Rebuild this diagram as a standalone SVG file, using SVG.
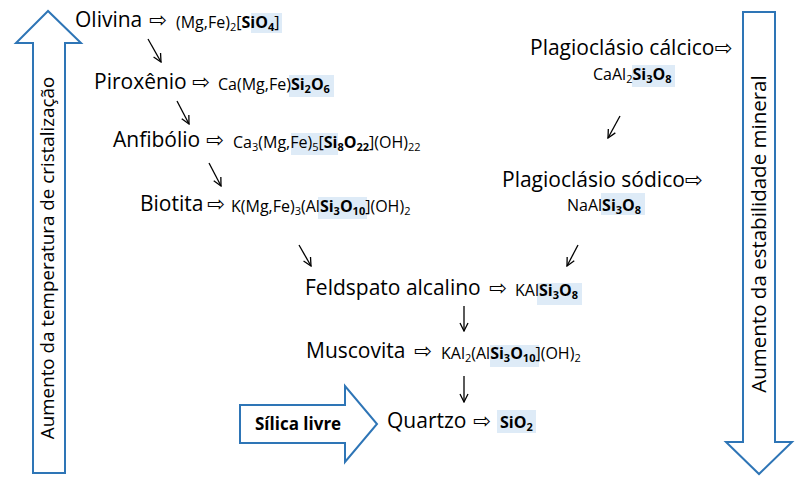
<svg xmlns="http://www.w3.org/2000/svg" width="800" height="481" viewBox="0 0 800 481">
<defs>
<style>
.lbl{font-family:"Open Sans","Noto Sans",sans-serif;font-size:21px;fill:#000}
.sym{font-family:"DejaVu Sans",sans-serif;font-size:21px;fill:#000}
.f{font-family:"Open Sans","Noto Sans",sans-serif;font-size:16px;fill:#000}
.b{font-weight:bold}
.sub{font-size:11px}
.hl{fill:#DEEBF7}
.big{fill:#fff;stroke:#2E75B6;stroke-width:2}
.vt{font-family:"Open Sans","Noto Sans",sans-serif;fill:#000}
.con{stroke:#000;stroke-width:1.3;fill:none}
</style>
<marker id="ah" viewBox="0 0 10 10" refX="9" refY="5" markerWidth="10" markerHeight="10" markerUnits="userSpaceOnUse" orient="auto">
<path d="M1,1 L9,5 L1,9" fill="none" stroke="#000" stroke-width="1.3"/>
</marker>
</defs>
<rect width="800" height="481" fill="#fff"/>

<g id="temp-arrow">
<polygon class="big" points="48,11 16,43 33,43 33,473 65,473 65,43 81,43"/>
<text class="vt" font-size="18.8" transform="translate(54,258) rotate(-90)" text-anchor="middle">Aumento da temperatura de cristalização</text>
</g>

<g id="stab-arrow">
<polygon class="big" points="743,12 775,12 775,442 792,442 759,474 726,442 743,442"/>
<text class="vt" font-size="20.5" transform="translate(766,234) rotate(-90)" text-anchor="middle">Aumento da estabilidade mineral</text>
</g>

<g id="silica-arrow">
<polygon class="big" points="240,405 345,405 345,386 377,424 345,462 345,443 240,443"/>
<text x="255" y="430" font-family="Open Sans, Noto Sans, sans-serif" font-size="17" font-weight="bold">Sílica livre</text>
</g>

<g id="olivina">
<rect class="hl" x="251" y="13" width="31" height="20"/>
<text class="lbl" x="75" y="27">Olivina</text>
<text class="sym" x="149" y="27">⇨</text>
<text class="f" x="176" y="28">(Mg,Fe)<tspan class="sub" dy="3">2</tspan><tspan dy="-3">[</tspan><tspan class="b">SiO</tspan><tspan class="sub b" dy="3">4</tspan><tspan dy="-3">]</tspan></text>
</g>

<g id="piroxenio">
<rect class="hl" x="289" y="75" width="45" height="22"/>
<text class="lbl" x="94" y="89">Piroxênio</text>
<text class="sym" x="192" y="89">⇨</text>
<text class="f" x="218" y="90">Ca(Mg,Fe)<tspan class="b">Si</tspan><tspan class="sub b" dy="3">2</tspan><tspan class="b" dy="-3">O</tspan><tspan class="sub b" dy="3">6</tspan></text>
</g>

<g id="anfibolio">
<rect class="hl" x="291" y="133" width="47" height="22"/>
<text class="lbl" x="113" y="147">Anfibólio</text>
<text class="sym" x="206" y="147">⇨</text>
<text class="f" x="233" y="148">Ca<tspan class="sub" dy="3">3</tspan><tspan dy="-3">(Mg,Fe)</tspan><tspan class="sub" dy="3">5</tspan><tspan dy="-3">[</tspan><tspan class="b">Si</tspan><tspan class="sub b" dy="3">8</tspan><tspan class="b" dy="-3">O</tspan><tspan class="sub b" dy="3">22</tspan><tspan dy="-3">](OH)</tspan><tspan class="sub" dy="3">22</tspan></text>
</g>

<g id="biotita">
<rect class="hl" x="318" y="197" width="49" height="22"/>
<text class="lbl" x="140" y="211">Biotita</text>
<text class="sym" x="207" y="211">⇨</text>
<text class="f" x="231" y="212">K(Mg,Fe)<tspan class="sub" dy="3">3</tspan><tspan dy="-3">(Al</tspan><tspan class="b">Si</tspan><tspan class="sub b" dy="3">3</tspan><tspan class="b" dy="-3">O</tspan><tspan class="sub b" dy="3">10</tspan><tspan dy="-3">](OH)</tspan><tspan class="sub" dy="3">2</tspan></text>
</g>

<g id="plag-calcico">
<rect class="hl" x="632" y="65" width="43" height="22"/>
<text class="lbl" x="530" y="55">Plagioclásio cálcico<tspan class="sym">⇨</tspan></text>
<text class="f" x="593" y="80">CaAl<tspan class="sub" dy="3">2</tspan><tspan class="b" dy="-3">Si</tspan><tspan class="sub b" dy="3">3</tspan><tspan class="b" dy="-3">O</tspan><tspan class="sub b" dy="3">8</tspan></text>
</g>

<g id="plag-sodico">
<rect class="hl" x="601" y="193" width="44" height="22"/>
<text class="lbl" x="502" y="187">Plagioclásio sódico<tspan class="sym">⇨</tspan></text>
<text class="f" x="567" y="211">NaAl<tspan class="b">Si</tspan><tspan class="sub b" dy="3">3</tspan><tspan class="b" dy="-3">O</tspan><tspan class="sub b" dy="3">8</tspan></text>
</g>

<g id="feldspato">
<rect class="hl" x="537" y="283" width="45" height="22"/>
<text class="lbl" x="305" y="295">Feldspato alcalino</text>
<text class="sym" x="489" y="295">⇨</text>
<text class="f" x="515" y="296">KAl<tspan class="b">Si</tspan><tspan class="sub b" dy="3">3</tspan><tspan class="b" dy="-3">O</tspan><tspan class="sub b" dy="3">8</tspan></text>
</g>

<g id="muscovita">
<rect class="hl" x="490" y="345" width="49" height="22"/>
<text class="lbl" x="306" y="358">Muscovita</text>
<text class="sym" x="414" y="358">⇨</text>
<text class="f" x="441" y="359">KAl<tspan class="sub" dy="3">2</tspan><tspan dy="-3">(Al</tspan><tspan class="b">Si</tspan><tspan class="sub b" dy="3">3</tspan><tspan class="b" dy="-3">O</tspan><tspan class="sub b" dy="3">10</tspan><tspan dy="-3">](OH)</tspan><tspan class="sub" dy="3">2</tspan></text>
</g>

<g id="quartzo">
<rect class="hl" x="497" y="410" width="39" height="23"/>
<text class="lbl" x="387" y="428">Quartzo</text>
<text class="sym" x="473" y="428">⇨</text>
<text class="f b" x="500" y="428">SiO<tspan class="sub" dy="3">2</tspan></text>
</g>

<g id="connectors">
<line class="con" x1="148" y1="39" x2="161" y2="62" marker-end="url(#ah)"/>
<line class="con" x1="177" y1="101" x2="189" y2="124" marker-end="url(#ah)"/>
<line class="con" x1="209" y1="163" x2="221" y2="186" marker-end="url(#ah)"/>
<line class="con" x1="299" y1="245" x2="311" y2="266" marker-end="url(#ah)"/>
<line class="con" x1="620" y1="116" x2="608" y2="138" marker-end="url(#ah)"/>
<line class="con" x1="578" y1="245" x2="567" y2="266" marker-end="url(#ah)"/>
<line class="con" x1="464" y1="306" x2="464" y2="331" marker-end="url(#ah)"/>
<line class="con" x1="464" y1="376" x2="464" y2="402" marker-end="url(#ah)"/>
</g>
</svg>
